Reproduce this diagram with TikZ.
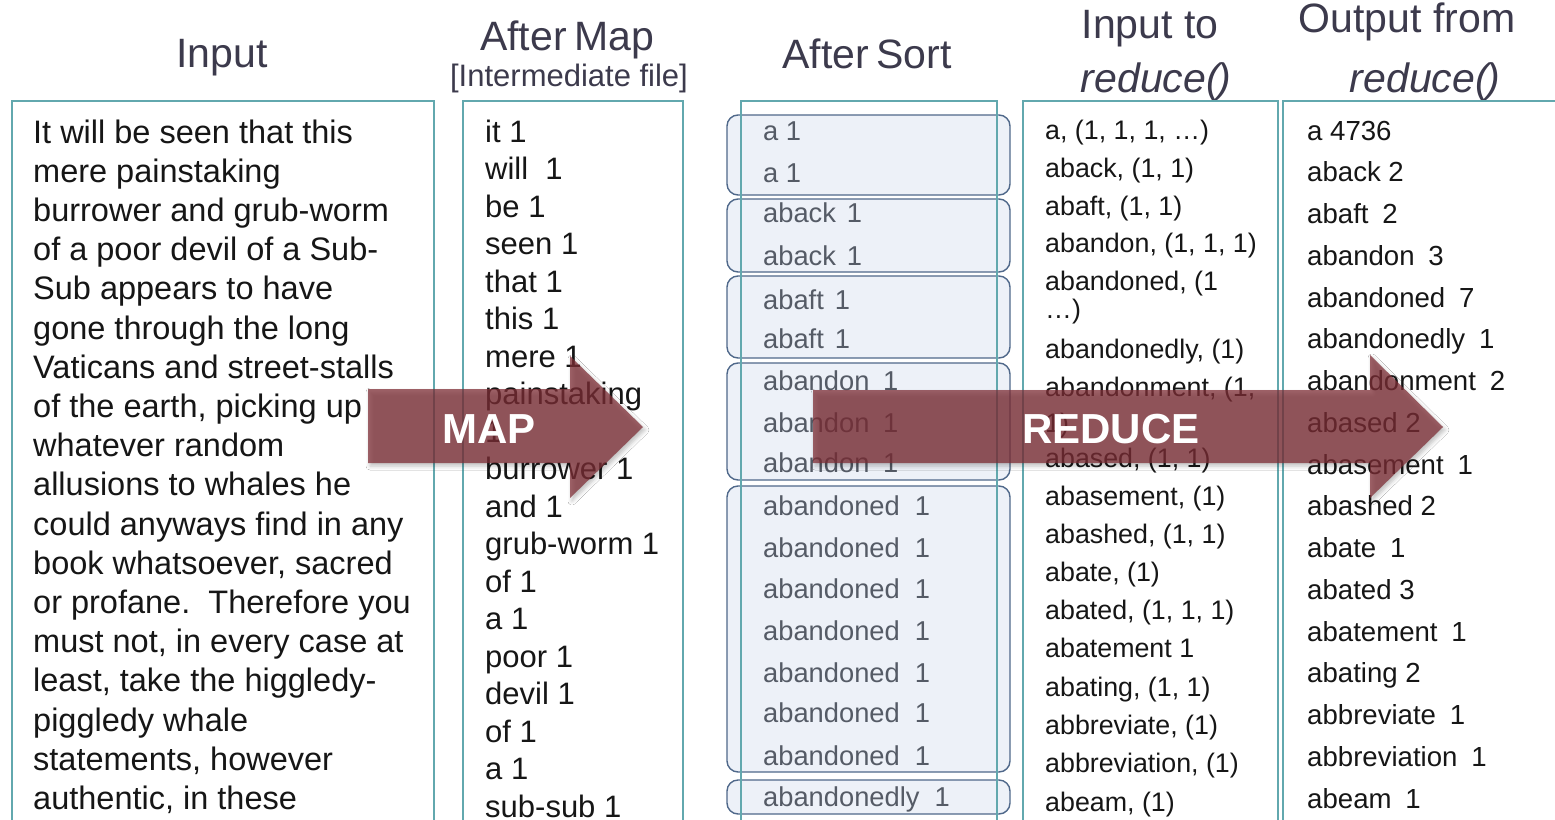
\documentclass[tikz,border=0pt]{standalone}
\usepackage{fontspec}
\setmainfont{Liberation Sans}
\usetikzlibrary{shadows.blur}
\definecolor{colteal}{HTML}{62A8AE}
\definecolor{hdrcol}{HTML}{3C3A4C}
\definecolor{grpfill}{HTML}{EDF1F8}
\definecolor{grpline}{HTML}{4F688A}
\definecolor{sortcol}{HTML}{555B66}
\definecolor{arrowred}{HTML}{7F2E36}
\definecolor{txtcol}{HTML}{161616}
\tikzset{
  hdr/.style={anchor=base, inner sep=0pt, text=hdrcol, font=\fontsize{41}{41}\selectfont},
  hdrsmall/.style={anchor=base, inner sep=0pt, text=hdrcol, font=\fontsize{31}{31}\selectfont},
  colbox/.style={draw=colteal, line width=1.6pt},
  grp/.style={draw=grpline, fill=grpfill, line width=1.4pt, rounded corners=11pt},
  inputtxt/.style={anchor=base west, inner sep=0pt, text=txtcol, font=\fontsize{32.5}{32.5}\selectfont},
  maptxt/.style={anchor=base west, inner sep=0pt, text=txtcol, font=\fontsize{31}{31}\selectfont},
  sorttxt/.style={anchor=base west, inner sep=0pt, text=sortcol, font=\fontsize{27.3}{27.3}\selectfont},
  redtxt/.style={anchor=base west, inner sep=0pt, text=txtcol, font=\fontsize{26.8}{26.8}\selectfont},
  outtxt/.style={anchor=base west, inner sep=0pt, text=txtcol, font=\fontsize{27.6}{27.6}\selectfont},
  bigarrow/.style={fill=arrowred, fill opacity=0.74, blur shadow={shadow xshift=2pt, shadow yshift=-3pt, shadow opacity=25, shadow blur radius=4pt}},
  arrowlabel/.style={anchor=base west, inner sep=0pt, text=white, font=\fontsize{42}{42}\selectfont\bfseries}
}
\begin{document}
\begin{tikzpicture}[x=1pt,y=-1pt]
\useasboundingbox (0,0) rectangle (1555,819);
\fill[white] (0,0) rectangle (1555,819);

% headers
\node[hdr] (h1) at (222,67) {Input};
\node[hdr] (h2) at (567,50) {After\hspace{0.18em}Map};
\node[hdrsmall] (h2b) at (569,86) {[Intermediate file]};
\node[hdr] (h3) at (867,68) {After\hspace{0.18em}Sort};
\node[hdr] (h4) at (1150,38) {Input to};
\node[hdr, font=\fontsize{41}{41}\selectfont\itshape] (h4b) at (1156,92) {reduce(\kern-0.06em)};
\node[hdr] (h5) at (1407,32) {Output from};
\node[hdr, font=\fontsize{41}{41}\selectfont\itshape] (h5b) at (1425,92) {reduce(\kern-0.06em)};

% sort groups
\draw[grp] (727,115) rectangle (1010,195);
\draw[grp] (727,199) rectangle (1010,272);
\draw[grp] (727,276) rectangle (1010,358);
\draw[grp] (727,363) rectangle (1010,480);
\draw[grp] (727,486) rectangle (1010,772);
\draw[grp] (727,780) rectangle (1010,814);

% column boxes
\draw[colbox] (12,101) rectangle (434,840);
\draw[colbox] (463,101) rectangle (683,840);
\draw[colbox] (741,101) rectangle (997,840);
\draw[colbox] (1023,101) rectangle (1278,840);
\draw[colbox] (1283,101) rectangle (1570,840);

% input text
\foreach \t [count=\i from 0] in {It will be seen that this, mere painstaking, burrower and grub-worm, of a poor devil of a Sub-, Sub appears to have, gone through the long, Vaticans and street-stalls, {of the earth, picking up}, whatever random, allusions to whales he, could anyways find in any, {book whatsoever, sacred}, or profane.\ \ Therefore you, {must not, in every case at}, {least, take the higgledy-}, piggledy whale, {statements, however}, {authentic, in these}}
  \node[inputtxt] (in\i) at (33,{143+39.2*\i}) {\t};

% after map text
\foreach \t [count=\i from 0] in {it 1, will\ \ 1, be 1, seen 1, that 1, this 1, mere 1, painstaking, 1, burrower 1, and 1, grub-worm 1, of 1, a 1, poor 1, devil 1, of 1, a 1, sub-sub 1}
  \node[maptxt] (mp\i) at (485,{142+37.5*\i}) {\t};

% after sort text
\foreach \t/\y [count=\i] in {a 1/140, a 1/182, aback\hspace{0.4em}1/222, aback\hspace{0.4em}1/265, abaft\hspace{0.4em}1/309, abaft\hspace{0.4em}1/348, abandon\hspace{0.5em}1/390, abandon\hspace{0.5em}1/432, abandon\hspace{0.5em}1/472, abandoned\hspace{0.55em}1/515, abandoned\hspace{0.55em}1/557, abandoned\hspace{0.55em}1/598, abandoned\hspace{0.55em}1/640, abandoned\hspace{0.55em}1/682, abandoned\hspace{0.55em}1/722, abandoned\hspace{0.55em}1/765, abandonedly\hspace{0.55em}1/806}
  \node[sorttxt] (st\i) at (763,\y) {\t};

% input to reduce text
\foreach \t/\y [count=\i] in {{a, (1, 1, 1, \dots)}/139, {aback, (1, 1)}/177, {abaft, (1, 1)}/215, {abandon, (1, 1, 1)}/252, {abandoned, (1}/290, {\dots)}/318, {abandonedly, (1)}/358, {abandonment, (1,}/396, {1)}/432, {abased, (1, 1)}/467, {abasement, (1)}/505, {abashed, (1, 1)}/543, {abate, (1)}/581, {abated, (1, 1, 1)}/619, {abatement 1}/657, {abating, (1, 1)}/696, {abbreviate, (1)}/734, {abbreviation, (1)}/772, {abeam, (1)}/811}
  \node[redtxt] (rd\i) at (1045,\y) {\t};

% output text
\foreach \t [count=\i from 0] in {a 4736, aback 2, abaft\enspace 2, abandon\enspace 3, abandoned\enspace 7, abandonedly\enspace 1, abandonment\enspace 2, abased 2, abasement\enspace 1, abashed 2, abate\enspace 1, abated 3, abatement\enspace 1, abating 2, abbreviate\enspace 1, abbreviation\enspace 1, abeam\enspace 1}
  \node[outtxt] (ot\i) at (1307,{140+41.75*\i}) {\t};

% arrows
\fill[bigarrow] (368,389) -- (570,389) -- (570,356) -- (643,427) -- (570,498) -- (570,463) -- (368,463) -- cycle;
\fill[bigarrow] (813,390) -- (1370,390) -- (1370,355) -- (1443,427) -- (1370,498) -- (1370,463) -- (813,463) -- cycle;
\node[arrowlabel] (maplbl) at (442,443) {MAP};
\node[arrowlabel] (redlbl) at (1022,443) {REDUCE};
\end{tikzpicture}
\end{document}
